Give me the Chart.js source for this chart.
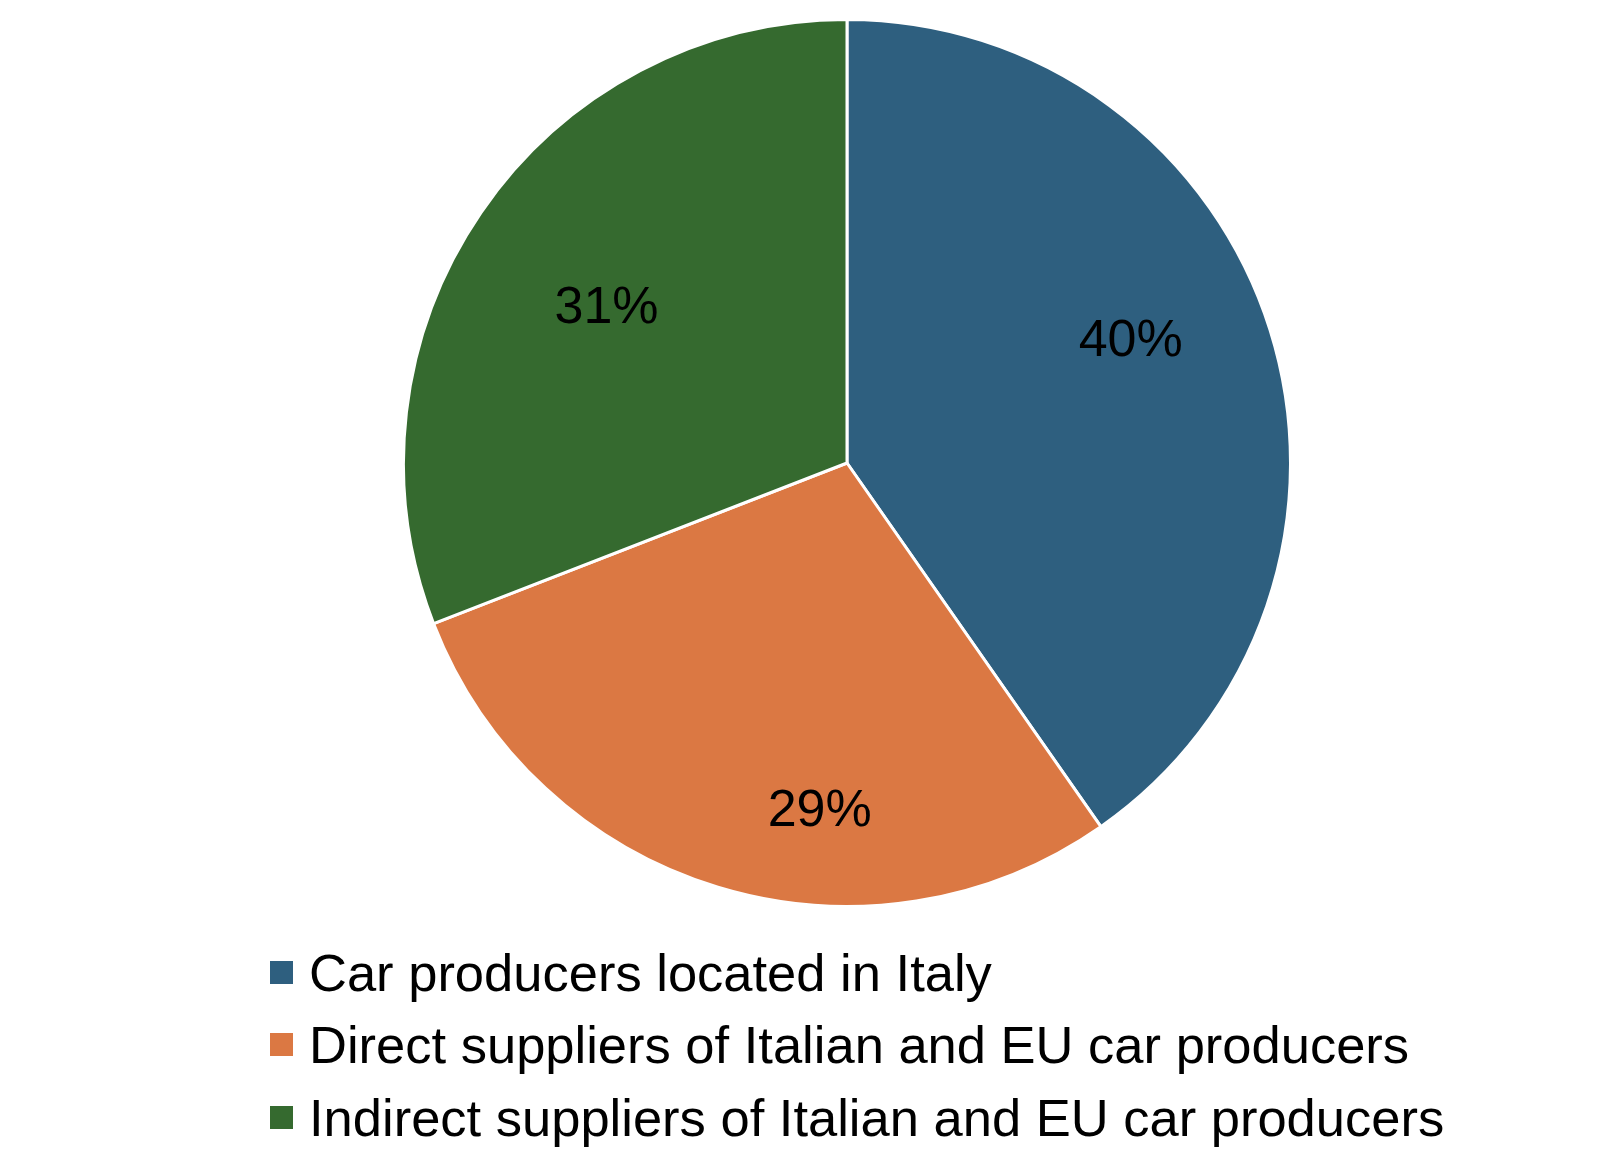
<!DOCTYPE html>
<html>
<head>
<meta charset="utf-8">
<script src="https://cdn.jsdelivr.net/npm/chart.js@4/dist/chart.umd.min.js"></script>
<style>
  html, body { margin: 0; padding: 0; background: #fff; }
  body { width: 1608px; height: 1170px; position: relative; overflow: hidden;
         font-family: "Liberation Sans", Arial, sans-serif; }
  .pie-wrap { position: absolute; left: 402px; top: 18px; width: 890px; height: 890px; }
  #legend { position: absolute; left: 270px; top: 936px; margin: 0; padding: 0; list-style: none; }
  #legend li { display: flex; align-items: center; height: 72.5px; font-size: 52.5px; color: #000; white-space: nowrap; }
  #legend .box { width: 23px; height: 23px; margin-right: 16px; flex: none; }
</style>
</head>
<body>
<div class="pie-wrap"><canvas id="pie"></canvas></div>
<ul id="legend"></ul>
<script>
const categories = [
  'Car producers located in Italy',
  'Direct suppliers of Italian and EU car producers',
  'Indirect suppliers of Italian and EU car producers'
];
const shares = [40.3, 28.8, 30.9];
const sliceColors = ['#2e5f7f', '#db7843', '#356a2f'];

// where each % label sits inside its slice (fraction of radius, angle nudge in degrees)
const labelRadius = [0.70, 0.78, 0.65];
const labelNudge = [-6.5, -12.4, -0.9];

const sliceLabels = {
  id: 'sliceLabels',
  afterDatasetsDraw(chart) {
    const ctx = chart.ctx;
    const arcs = chart.getDatasetMeta(0).data;
    const size = 52;
    ctx.save();
    ctx.font = size + 'px "Liberation Sans", Arial, sans-serif';
    ctx.fillStyle = '#000';
    ctx.textAlign = 'center';
    ctx.textBaseline = 'alphabetic';
    arcs.forEach((arc, i) => {
      const { x, y, startAngle, endAngle, outerRadius } = arc.getProps(['x', 'y', 'startAngle', 'endAngle', 'outerRadius'], true);
      const a = (startAngle + endAngle) / 2 + labelNudge[i] * Math.PI / 180;
      const r = outerRadius * labelRadius[i];
      // baseline shifted so the digits are centred on the anchor point
      ctx.fillText(Math.round(shares[i]) + '%', x + r * Math.cos(a), y + r * Math.sin(a) + size * 0.358);
    });
    ctx.restore();
  }
};

new Chart(document.getElementById('pie'), {
  type: 'pie',
  data: {
    labels: categories,
    datasets: [{
      data: shares,
      backgroundColor: sliceColors,
      borderColor: '#ffffff',
      borderWidth: 3
    }]
  },
  options: {
    animation: false,
    responsive: true,
    maintainAspectRatio: false,
    devicePixelRatio: 1,
    plugins: {
      legend: { display: false },
      tooltip: { enabled: false }
    }
  },
  plugins: [sliceLabels]
});

const legend = document.getElementById('legend');
categories.forEach((name, i) => {
  const li = document.createElement('li');
  const box = document.createElement('span');
  box.className = 'box';
  box.style.background = sliceColors[i];
  li.appendChild(box);
  li.appendChild(document.createTextNode(name));
  legend.appendChild(li);
});
</script>
</body>
</html>
